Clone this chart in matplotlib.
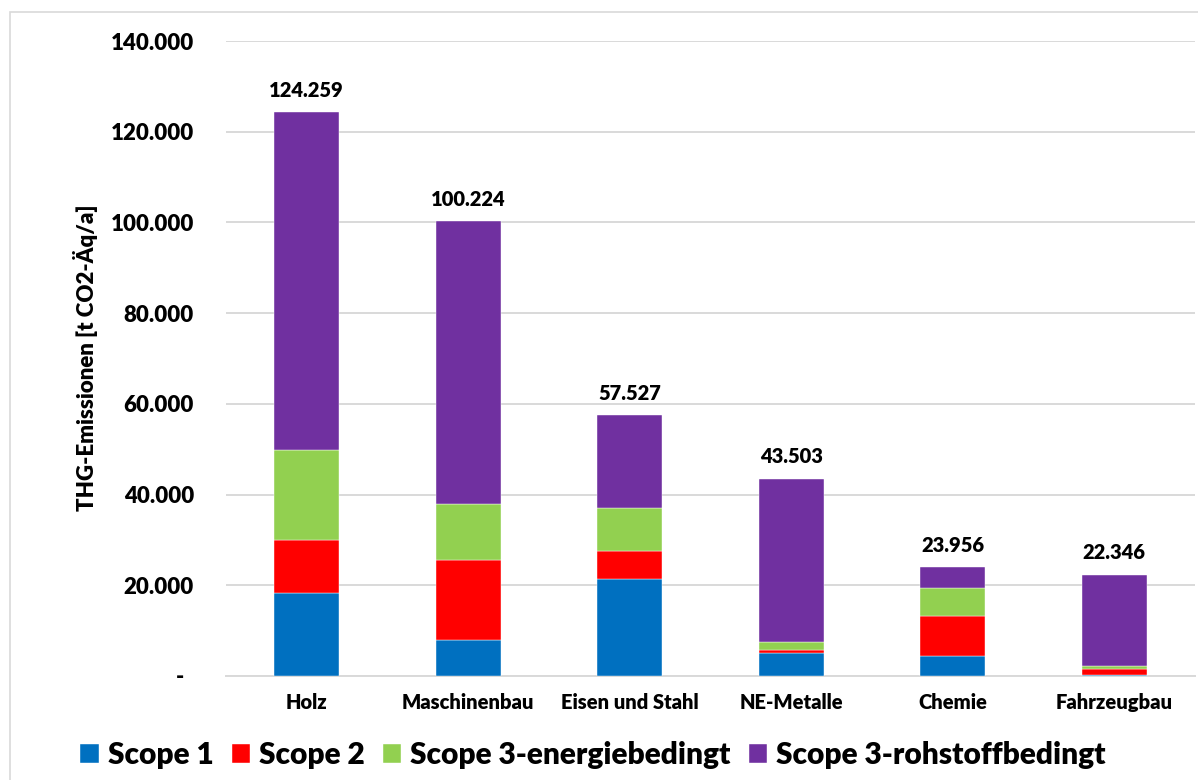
import matplotlib
matplotlib.use("Agg")
import matplotlib.pyplot as plt
from matplotlib.patches import Rectangle
from matplotlib.ticker import FuncFormatter, MultipleLocator
import numpy as np

plt.rcParams['font.family'] = ['Lato', 'DejaVu Sans']
HEAVY = 800
plt.rcParams['font.weight'] = HEAVY

# Sectors and emissions per scope (t CO2-eq per year)
sectors = ["Holz", "Maschinenbau", "Eisen und Stahl", "NE-Metalle", "Chemie", "Fahrzeugbau"]
scope1 = [18200, 7850, 21300, 5100, 4500, 200]
scope2 = [11700, 17650, 6300, 550, 8800, 1300]
scope3_energy = [19900, 12400, 9500, 1850, 6200, 700]
scope3_raw = [74459, 62324, 20427, 36003, 4456, 20146]

series_names = ["Scope 1", "Scope 2", "Scope 3-energiebedingt", "Scope 3-rohstoffbedingt"]
series_colors = ["#0070C0", "#FF0000", "#92D050", "#7030A0"]
y_max = 140000
y_step = 20000


def de_thousands(v, pos=None):
    if abs(v) < 1e-9:
        return "-  "
    return f"{int(round(v)):,}".replace(",", ".")


fig = plt.figure(figsize=(11.98, 7.80), dpi=100)
ax = fig.add_axes([226 / 1198, 1 - 676 / 780, 969 / 1198, 635 / 780])

x = np.arange(len(sectors))
width = 0.4
bottom = np.zeros(len(sectors))
handles = []
for name, color, vals in zip(series_names, series_colors,
                             [scope1, scope2, scope3_energy, scope3_raw]):
    vals = np.asarray(vals, dtype=float)
    b = ax.bar(x, vals, width, bottom=bottom, color=color, label=name,
               edgecolor="white", linewidth=0.3, zorder=3)
    handles.append(b)
    bottom += vals

# Totals above each stack
for xi, total in zip(x, bottom):
    ax.annotate(de_thousands(total), (xi, total), xytext=(0, 9),
                textcoords="offset points", ha="center", va="bottom",
                fontsize=14.5, fontweight=HEAVY, color="#000000")

ax.set_xlim(-0.5, len(sectors) - 0.5)
ax.set_ylim(0, y_max)
ax.yaxis.set_major_locator(MultipleLocator(y_step))
ax.yaxis.set_major_formatter(FuncFormatter(de_thousands))
ax.grid(axis="y", color="#d9d9d9", linewidth=1.4, zorder=0)
ax.set_axisbelow(True)

for side in ["top", "right", "left"]:
    ax.spines[side].set_visible(False)
ax.spines["bottom"].set_color("#d9d9d9")
ax.spines["bottom"].set_linewidth(1.4)

ax.set_xticks(x)
ax.set_xticklabels(sectors, fontsize=14.5, fontweight=HEAVY)
ax.tick_params(axis="x", length=0, pad=12)
ax.tick_params(axis="y", length=0, pad=23, labelsize=16)
for lbl in ax.get_yticklabels():
    lbl.set_fontweight(HEAVY)

fig.text(86 / 1198, 1 - 358 / 780, "THG-Emissionen [t CO2-Äq/a]", rotation=90,
         ha="center", va="center", fontsize=16, fontweight=HEAVY)

fig.legend(handles=handles, labels=series_names, loc="center",
           bbox_to_anchor=(593 / 1198, 1 - 755 / 780), ncol=4, frameon=False,
           prop={"size": 21.5, "weight": HEAVY}, handlelength=0.62,
           handleheight=0.62, handletextpad=0.3, columnspacing=0.6,
           borderaxespad=0, borderpad=0)

# Light frame around the chart area
fig.patches.append(Rectangle((10 / 1198, -0.1), 1.2, 1 - 12 / 780 + 0.1,
                             transform=fig.transFigure, fill=False,
                             edgecolor="#d9d9d9", linewidth=1.2))

fig.savefig("out.png", dpi=100, facecolor="white")
